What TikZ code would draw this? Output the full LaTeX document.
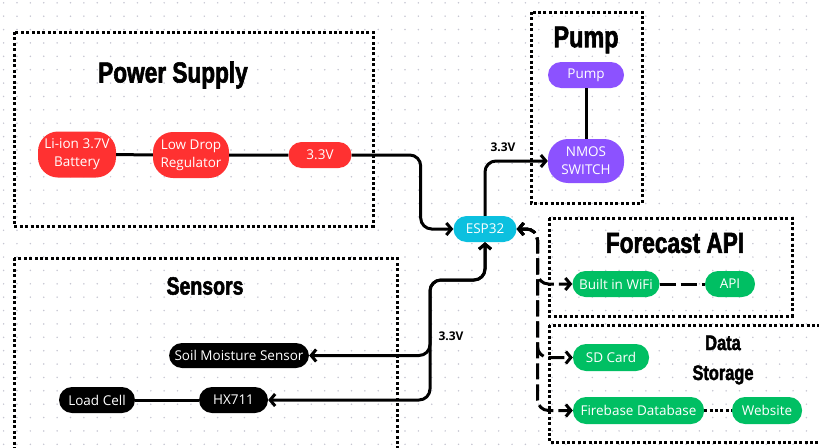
\documentclass[tikz,border=0pt]{standalone}
\usepackage{fontspec}
\setmainfont{Open Sans}
\newfontfamily\titlefont{Liberation Sans Bold}[FakeStretch=0.78,FakeBold=2]
\usepackage{tikz}
\usetikzlibrary{positioning,arrows.meta,calc}

\definecolor{psred}{HTML}{FF3131}
\definecolor{pumppurple}{HTML}{8C52FF}
\definecolor{netgreen}{HTML}{00BF63}
\definecolor{espcyan}{HTML}{0CC0DF}
\definecolor{dotgray}{HTML}{C6C6D2}

\tikzset{
  block/.style={rounded corners=13pt, text=white, align=center, inner sep=0pt,
    minimum height=26pt, font=\fontsize{13.5}{18}\selectfont},
  tallblock/.style={block, rounded corners=20pt, minimum height=46pt},
  wire/.style={line width=3pt, rounded corners=11pt},
  netwire/.style={wire, dash pattern=on 16pt off 5pt},
  groupbox/.style={line width=3pt, dash pattern=on 3pt off 2.4pt},
  grouptitle/.style={font=\titlefont\fontsize{#1}{30}\selectfont, align=center},
  voltlabel/.style={font=\bfseries\fontsize{12}{14}\selectfont},
}

\begin{document}
\begin{tikzpicture}[x=1pt, y=-1pt, >={Straight Barb[length=5pt,width=12pt]}]

\useasboundingbox (0,0) rectangle (819,447);
\clip (0,0) rectangle (819,447);

% dotted canvas
\foreach \i in {0,...,60}
  \foreach \j in {0,...,33}
    \fill[dotgray] (3.6+13.38*\i, 2.8+13.38*\j) circle[radius=0.85pt];

% groups
\draw[groupbox] (14,32) rectangle (373,226);
\draw[groupbox] (531,12) rectangle (642,203);
\draw[groupbox] (549,218) rectangle (792,316);
\draw[groupbox] (549,325) rectangle (835,442);
\draw[groupbox] (14,258) rectangle (397,470);

\node[grouptitle=29] (pwrtitle) at (173,75) {Power Supply};
\node[grouptitle=30] (pumptitle) at (586,40) {Pump};
\node[grouptitle=29] (apititle) at (675,243) {Forecast API};
\node[grouptitle=25] (senstitle) at (205,286) {Sensors};
\node[grouptitle=21] (datatitle) at (723,360) {Data\\Storage};

% power supply
\node[tallblock, fill=psred, minimum width=78pt] (battery) at (77,154.5) {Li-ion 3.7V\\Battery};
\node[tallblock, fill=psred, minimum width=76pt] (ldo) at (191,155) {Low Drop\\Regulator};
\node[block, fill=psred, minimum width=63pt] (vout) at (320,155) {3.3V};

% controller
\node[block, fill=espcyan, minimum width=63pt] (esp) at (485,229) {ESP32};

% pump
\node[block, fill=pumppurple, minimum width=76pt] (pump) at (586,75) {Pump};
\node[tallblock, fill=pumppurple, minimum width=76pt, minimum height=44pt] (nmos) at (586,161) {NMOS\\SWITCH};

% network and storage
\node[block, fill=netgreen, minimum width=87pt] (wifi) at (616,284) {Built in WiFi};
\node[block, fill=netgreen, minimum width=50pt] (api) at (730,284) {API};
\node[block, fill=netgreen, minimum width=76pt, minimum height=27pt] (sdcard) at (611,357.5) {SD Card};
\node[block, fill=netgreen, minimum width=131pt, minimum height=27pt] (firebase) at (638.5,410.5) {Firebase Database};
\node[block, fill=netgreen, minimum width=70pt, minimum height=27pt] (website) at (767,410.5) {Website};

% sensors
\node[block, fill=black, minimum width=140pt, minimum height=25pt] (soil) at (239,355.5) {Soil Moisture Sensor};
\node[block, fill=black, minimum width=69pt] (hx) at (233.5,400) {HX711};
\node[block, fill=black, minimum width=76pt] (loadcell) at (97,400) {Load Cell};

% connections
\draw[wire] (battery) -- (ldo) -- (vout);
\draw[wire, ->] (vout.east) -- ++(69,0) |- (esp.west);
\draw[wire, ->] (esp.north) |- (nmos.west);
\draw[wire] (pump) -- (nmos);
\node[voltlabel] (pumpvolt) at (503,147) {3.3V};

\coordinate (split) at (430,280);
\draw[wire, <->] (esp.south) |- (split) |- (soil.east);
\draw[wire, <->] (esp.south) |- (split) |- (hx.east);
\draw[wire] (loadcell) -- (hx);
\node[voltlabel] (sensvolt) at (451,336) {3.3V};

\coordinate (bus) at (537.5,229);
\draw[netwire, <->] (esp.east) -- (bus) |- (wifi.west);
\draw[netwire, <->] (esp.east) -- (bus) |- (sdcard.west);
\draw[netwire, <->] (esp.east) -- (bus) |- (firebase.west);
\draw[netwire] (wifi) -- (api);
\draw[groupbox] (firebase) -- (website);

\end{tikzpicture}
\end{document}
